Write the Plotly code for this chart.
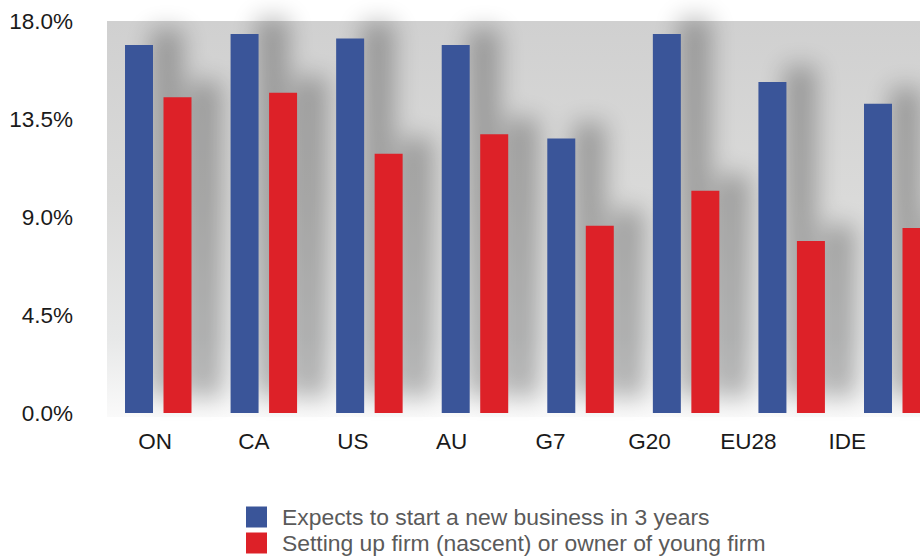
import base64
import plotly.graph_objects as go

categories = ["ON", "CA", "US", "AU", "G7", "G20", "EU28", "IDE"]
series_names = ["Expects to start a new business in 3 years",
                "Setting up firm (nascent) or owner of young firm"]
expects = [16.9, 17.4, 17.2, 16.9, 12.6, 17.4, 15.2, 14.2]
setting_up = [14.5, 14.7, 11.9, 12.8, 8.6, 10.2, 7.9, 8.5]
y_tickvals = [0, 4.5, 9, 13.5, 18]
y_ticktext = ["0.0%", "4.5%", "9.0%", "13.5%", "18.0%"]

colors = ["#3a5599", "#dd2128"]

W, H = 920, 557
ML, MR, MT, MB = 107, 0, 21, 144
PW, PH = W - ML - MR, H - MT - MB
XR = [-0.4855, 7.2155]          # bar axis range
XR2 = [-0.4853, 7.735]          # label axis range
YR = [0, 18]
BARGAP, GROUPGAP = 0.2706, 0.273

def px_x(v):
    return ML + (v - XR[0]) / (XR[1] - XR[0]) * PW

def px_y(v):
    return MT + PH - (v - YR[0]) / (YR[1] - YR[0]) * PH

# shadow image derived from the data
group_w = 1 - BARGAP
slot = group_w / 2
bar_w = slot * (1 - GROUPGAP)
wpx = bar_w * PW / (XR[1] - XR[0])
rects = []
for si, vals in enumerate([expects, setting_up]):
    off = -group_w / 2 + slot * (si + 0.5)
    for i, v in enumerate(vals):
        cx = px_x(i + off)
        x0 = cx - wpx / 2 + 26
        y0 = px_y(v) - 16
        h = px_y(0) - px_y(v)
        rects.append(f"<rect x='{x0:.1f}' y='{y0:.1f}' width='{wpx + 4:.1f}' height='{h:.1f}'/>")

svg = f"""<svg xmlns='http://www.w3.org/2000/svg' width='{W}' height='{H}' viewBox='0 0 {W} {H}'>
<defs>
<linearGradient id='g' x1='0' y1='0' x2='0' y2='1'>
<stop offset='0' stop-color='#d0d0d0'/>
<stop offset='0.45' stop-color='#dadad9'/>
<stop offset='0.8' stop-color='#e7e8e8'/>
<stop offset='1' stop-color='#fafafa'/>
</linearGradient>
<filter id='b' x='-100%' y='-20%' width='300%' height='140%'><feGaussianBlur stdDeviation='12'/></filter>
</defs>
<rect x='{ML}' y='{MT}' width='{PW}' height='{PH + 4}' fill='url(#g)'/>
<g filter='url(#b)' opacity='0.28' fill='#000'>
{''.join(rects)}
</g>
</svg>"""
src = "data:image/svg+xml;base64," + base64.b64encode(svg.encode()).decode()

fig = go.Figure()
for name, vals, col in zip(series_names, [expects, setting_up], colors):
    fig.add_trace(go.Bar(x=categories, y=vals, name=name, marker_color=col,
                         marker_line_width=0, showlegend=False, hoverinfo="skip"))
fig.add_trace(go.Scatter(x=categories, y=[0] * len(categories), xaxis="x2",
                         mode="markers", marker_opacity=0, showlegend=False,
                         hoverinfo="skip"))

font = dict(family="Liberation Sans, Arial, sans-serif", size=22.5, color="#1a1a1a")

fig.update_layout(
    width=W, height=H,
    margin=dict(l=ML, r=MR, t=MT, b=MB),
    paper_bgcolor="white", plot_bgcolor="rgba(0,0,0,0)",
    barmode="group", bargap=BARGAP, bargroupgap=GROUPGAP,
    font=font,
    xaxis=dict(type="category", range=XR, showticklabels=False, showgrid=False,
               zeroline=False, showline=False, ticks=""),
    xaxis2=dict(type="category", range=XR2, overlaying="x", anchor="y", side="bottom",
                showgrid=False, zeroline=False, showline=False, ticks="",
                tickfont=font, ticklabelstandoff=12),
    yaxis=dict(range=YR, tickvals=y_tickvals, ticktext=y_ticktext, showgrid=False,
               zeroline=False, showline=False, ticks="", tickfont=font,
               ticklabelstandoff=33),
    images=[dict(source=src, xref="paper", yref="paper", x=-ML / PW, y=1 + MT / PH,
                 sizex=W / PW, sizey=H / PH, xanchor="left", yanchor="top",
                 sizing="stretch", layer="below")],
)

# legend drawn manually
leg_font = dict(family="Liberation Sans, Arial, sans-serif", size=22.9, color="#5a5a5a")
for k, (name, col) in enumerate(zip(series_names, colors)):
    yc = 517 + 26 * k
    fig.add_shape(type="rect", xref="paper", yref="paper",
                  x0=(246 - ML) / PW, x1=(267 - ML) / PW,
                  y0=(MT + PH - (yc - 10.5)) / PH, y1=(MT + PH - (yc + 10.5)) / PH,
                  fillcolor=col, line_width=0)
    fig.add_annotation(text=name, xref="paper", yref="paper",
                       x=(280 - ML) / PW, y=(MT + PH - yc) / PH,
                       xanchor="left", yanchor="middle", showarrow=False,
                       font=leg_font)

fig.write_html("out.html", config={"displayModeBar": False},
               post_script="document.body.style.margin='0';document.body.style.overflow='hidden';")
